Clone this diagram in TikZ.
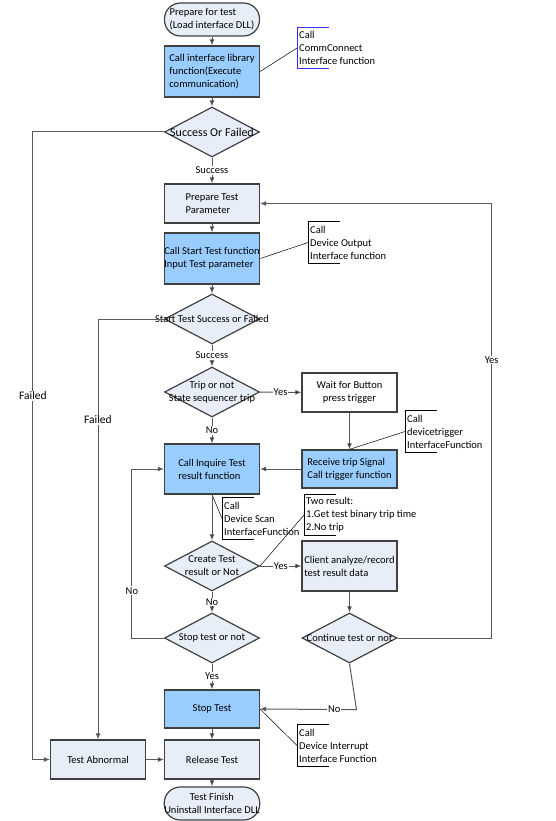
\documentclass[tikz,border=0pt]{standalone}
\usepackage{fontspec}
\setmainfont{Carlito}
\usetikzlibrary{shapes.geometric, arrows.meta}

\definecolor{boxblue}{RGB}{153,204,255}
\definecolor{boxpale}{RGB}{232,238,247}
\definecolor{rimgray}{RGB}{64,64,64}
\definecolor{linegray}{RGB}{89,89,89}
\definecolor{notebrk}{RGB}{51,51,255}

\begin{document}
\begin{tikzpicture}[>={Latex[length=6pt,width=5pt]}, x=1pt, y=-1pt,
    font=\fontsize{10.5}{13}\selectfont, align=left]

    \tikzset{
      proc/.style = {rectangle, draw=rimgray, line width=1.2pt, fill=boxpale,
                     minimum width=95pt, inner sep=0pt},
      call/.style = {proc, fill=boxblue},
      term/.style = {proc, rounded corners=16pt, minimum height=33pt},
      decision/.style = {diamond, draw=rimgray, line width=1.2pt, fill=boxpale,
                         minimum width=95pt, minimum height=50pt, inner sep=0pt},
      dtext/.style = {align=center, inner sep=0pt},
      note/.style = {anchor=west, minimum height=41pt, inner xsep=2pt, inner ysep=0pt},
      brk/.style = {draw, line width=0.8pt},
      flow/.style = {draw=linegray, line width=1pt},
      tie/.style = {draw, line width=0.5pt},
      lbl/.style = {fill=white, inner sep=1pt, align=center},
      fail/.style = {lbl, font=\fontsize{11.5}{14}\selectfont},
    }

    \useasboundingbox (0,0) rectangle (556,821);

    % main column
    \node[term] (load) at (212,19.5) {Prepare for test\\ (Load interface DLL)};
    \node[call, minimum height=51pt] (comm) at (212,71.5) {Call interface library\\function(Execute\\communication)};
    \node[decision, label={[dtext, font=\fontsize{12}{14}\selectfont]center:Success Or Failed}] (linkok) at (212,132) {};
    \node[proc, minimum height=39pt] (param) at (212,203.5) {Prepare Test\\Parameter};
    \node[call, minimum height=51pt] (starttest) at (212,258.5) {Call Start Test function\\Input Test parameter};
    \node[decision, label={[dtext]center:Start Test Success or Failed}] (startok) at (212,319) {};
    \node[decision, label={[dtext]center:Trip or not\\State sequencer trip}] (trip) at (212,392) {};
    \node[call, minimum height=50pt] (inquire) at (212,469) {Call Inquire Test\\result function};
    \node[decision, label={[dtext]center:Create Test\\result or Not}] (result) at (212,566) {};
    \node[decision, label={[dtext]center:Stop test or not}] (stopq) at (212,638) {};
    \node[call, minimum height=38pt, align=center] (stop) at (212,709) {Stop Test};
    \node[proc, minimum height=39pt, align=center] (release) at (212,759.5) {Release Test};
    \node[term, align=center] (finish) at (212,803.5) {Test Finish\\Uninstall Interface DLL};

    % right column
    \node[proc, fill=white, minimum height=39pt, align=center] (wait) at (349.5,392.5) {Wait for Button\\press trigger};
    \node[call, minimum height=38pt] (receive) at (349.5,469) {Receive trip Signal\\Call trigger function};
    \node[proc, minimum height=50pt] (client) at (349.5,566) {Client analyze/record\\test result data};
    \node[decision, label={[dtext]center:Continue test or not}] (goon) at (349.5,638) {};

    \node[proc, minimum height=39pt, align=center] (abnormal) at (98,759.5) {Test Abnormal};

    % notes
    \node[note] (n1) at (297,48) {Call\\CommConnect\\Interface function};
    \node[note] (n2) at (308,242.5) {Call\\Device Output\\Interface function};
    \node[note] (n3) at (405,431.5) {Call\\devicetrigger\\InterfaceFunction};
    \node[note] (n4) at (222,518.5) {Call\\Device Scan\\InterfaceFunction};
    \node[note] (n5) at (304,515) {Two result:\\1.Get test binary trip time\\2.No trip};
    \node[note] (n6) at (297,745.5) {Call\\Device Interrupt\\Interface Function};

    \draw[brk, draw=notebrk] ([xshift=32pt]n1.north west) -| (n1.south west) -- ++(32,0);
    \foreach \n in {n2,n3,n4,n5,n6}
      \draw[brk] ([xshift=32pt]\n.north west) -| (\n.south west) -- ++(32,0);

    \draw[tie] (comm.east) -- (n1.west);
    \draw[tie] (starttest.east) -- (n2.west);
    \draw[tie] (receive.north) -- (n3.west);
    \draw[tie] (inquire.south) -- (n4.west);
    \draw[tie] (result.east) -- (n5.west);
    \draw[tie] (stop.east) -- (n6.west);

    \path[->, flow]
      (load) edge (comm)
      (comm) edge (linkok)
      (linkok) edge node[lbl]{Success} (param)
      (param) edge (starttest)
      (starttest) edge (startok)
      (startok) edge node[lbl]{Success} (trip)
      (trip) edge node[lbl]{Yes} (wait)
      (trip) edge node[lbl]{No} (inquire)
      (wait) edge (receive)
      (receive) edge (inquire)
      (inquire) edge (result)
      (result) edge node[lbl]{Yes} (client)
      (result) edge node[lbl]{No} (stopq)
      (client) edge (goon)
      (stopq) edge node[lbl]{Yes} (stop)
      (stop) edge (release)
      (abnormal) edge (release)
      (release) edge (finish);

    % loops back and failure paths
    \draw[->, flow] (stopq.west) -- ++(-32,0) |- node[lbl, pos=0.14]{No} (inquire.west);
    \draw[->, flow] (goon.east) -- ++(94,0) |- node[lbl, pos=0.32]{Yes} (param.east);
    \draw[->, flow] (goon.south) -- ++(7,46) -- node[lbl, pos=0.23]{No} (stop.east);
    \draw[->, flow] (linkok.west) -- ++(-131,0) |- node[fail, pos=0.21]{Failed} (abnormal.west);
    \draw[->, flow] (startok.west) -| node[fail, pos=0.62]{Failed} (abnormal.north);

  \end{tikzpicture}
\end{document}
